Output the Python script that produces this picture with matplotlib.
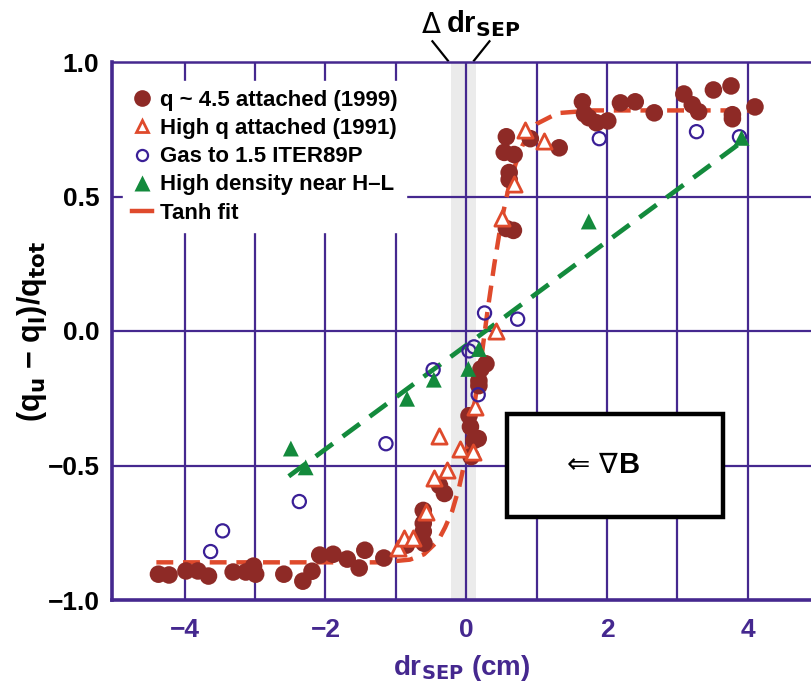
import matplotlib
matplotlib.use('Agg')
import matplotlib.pyplot as plt
from matplotlib.lines import Line2D
from matplotlib.patches import Rectangle

FONT = ['Liberation Sans Narrow', 'Liberation Sans', 'DejaVu Sans']
plt.rcParams['font.family'] = FONT
plt.rcParams['font.weight'] = 'bold'
plt.rcParams['mathtext.fontset'] = 'custom'
plt.rcParams['mathtext.rm'] = 'Liberation Sans Narrow:bold'
plt.rcParams['mathtext.bf'] = 'Liberation Sans Narrow:bold'

PURPLE = '#45288f'
DARKRED = '#8e2a26'
RED = '#df4a2c'
BLUE = '#3a1f96'
GREEN = '#138a3c'

# q ~ 4.5 attached (1999)
q45_x = [-4.37, -4.22, -3.98, -3.81, -3.66, -3.31, -3.13, -2.99, -3.02, -2.59,
         -2.32, -2.19, -2.08, -1.89, -1.69, -1.52, -1.44, -1.17, -0.85, -0.61,
         -0.61, -0.61, -0.60, -0.38, -0.31, 0.07, 0.11, 0.17, 0.06, 0.04,
         0.18, 0.18, 0.21, 0.28, 0.57, 0.54, 0.68, 0.61, 0.61, 0.57,
         0.67, 0.91, 1.32, 1.65, 1.68, 1.74, 1.85, 2.01, 2.19, 2.40,
         2.67, 3.09, 3.21, 3.30, 3.51, 3.76, 3.78, 3.78, 4.10]
q45_y = [-0.904, -0.907, -0.892, -0.892, -0.911, -0.896, -0.896, -0.904, -0.874, -0.904,
         -0.930, -0.893, -0.833, -0.830, -0.848, -0.881, -0.815, -0.844, -0.796, -0.667,
         -0.715, -0.745, -0.789, -0.574, -0.604, -0.467, -0.407, -0.400, -0.356, -0.315,
         -0.203, -0.185, -0.141, -0.122, 0.722, 0.664, 0.656, 0.589, 0.563, 0.381,
         0.374, 0.715, 0.681, 0.852, 0.807, 0.793, 0.774, 0.781, 0.848, 0.852,
         0.811, 0.881, 0.841, 0.815, 0.896, 0.911, 0.804, 0.789, 0.833]

# High q attached (1991)
hq_x = [-0.97, -0.88, -0.75, -0.57, -0.46, -0.27, -0.38, -0.09, 0.09, 0.13,
        0.42, 0.51, 0.68, 0.83, 1.10]
hq_y = [-0.807, -0.770, -0.770, -0.674, -0.548, -0.518, -0.389, -0.437, -0.448, -0.281,
        0.0, 0.419, 0.548, 0.748, 0.707]

# Gas to 1.5 ITER89P
gas_x = [-3.63, -3.46, -2.37, -1.14, -0.47, 0.04, 0.11, 0.17, 0.26, 0.73, 1.89, 3.27, 3.88]
gas_y = [-0.820, -0.743, -0.634, -0.419, -0.144, -0.074, -0.059, -0.237, 0.067, 0.044,
         0.715, 0.741, 0.722]

# High density near H-L
hd_x = [-2.49, -2.28, -0.84, -0.46, 0.03, 0.18, 1.74, 3.91]
hd_y = [-0.437, -0.507, -0.252, -0.181, -0.141, -0.067, 0.407, 0.718]
hd_fit_x = [-2.52, 3.95]
hd_fit_y = [-0.54, 0.71]

# Tanh fit
fit_x = [-4.4, -1.2, -0.8, -0.6, -0.4, -0.3, -0.2, -0.1, 0.0, 0.1, 0.2, 0.3, 0.4,
         0.5, 0.6, 0.7, 0.8, 0.9, 1.0, 1.3, 1.8, 4.1]
fit_y = [-0.86, -0.86, -0.85, -0.83, -0.78, -0.73, -0.67, -0.58, -0.46, -0.30, -0.13,
         0.07, 0.25, 0.41, 0.53, 0.62, 0.69, 0.74, 0.77, 0.81, 0.82, 0.82]

fig = plt.figure(figsize=(8.12, 6.92), dpi=100)
ax = fig.add_axes([112/812, 92/692, 700/812, 538/692])
ax.set_xlim(-5.03, 4.91)
ax.set_ylim(-1.0, 1.0)

# separatrix uncertainty band
ax.axvspan(-0.21, 0.14, color='#ebebeb', zorder=0, lw=0)

# grid
for gx in range(-4, 5):
    ax.axvline(gx, color=PURPLE, lw=1.6, zorder=1)
for gy in [-0.5, 0.0, 0.5]:
    ax.axhline(gy, color=PURPLE, lw=1.6, zorder=1)

for s in ['left', 'bottom']:
    ax.spines[s].set_color(PURPLE)
    ax.spines[s].set_linewidth(2.6)
ax.spines['top'].set_color(PURPLE)
ax.spines['top'].set_linewidth(1.8)
ax.spines['right'].set_visible(False)

# box with grad B
ax.add_patch(Rectangle((0.58, -0.691), 3.06, 0.382, facecolor='white',
                       edgecolor='black', lw=3.2, zorder=2))
ax.text(2.15, -0.497, '⇐ ∇', family='DejaVu Sans', fontweight='normal',
        fontsize=20, ha='right', va='center', zorder=3)
ax.text(2.17, -0.497, 'B', fontsize=21, ha='left', va='center', zorder=3)

# fits
ax.plot(hd_fit_x, hd_fit_y, color=GREEN, lw=3.4, dashes=(4.5, 2.6), zorder=3)
ax.plot(fit_x, fit_y, color=RED, lw=3.2, dashes=(3.8, 2.2), zorder=3)

# data
ax.scatter(q45_x, q45_y, s=160, color=DARKRED, edgecolors='none', zorder=4)
ax.scatter(hq_x, hq_y, s=120, marker='^', facecolors='white', edgecolors=RED,
           linewidths=2.0, zorder=5)
ax.scatter(gas_x, gas_y, s=90, marker='o', facecolors='none', edgecolors=BLUE,
           linewidths=1.6, zorder=5)
ax.scatter(hd_x, hd_y, s=130, marker='^', color=GREEN, edgecolors='none', zorder=5)

# ticks
ax.set_xticks([-4, -2, 0, 2, 4])
ax.set_xticklabels(['\u22124', '\u22122', '0', '2', '4'], color=PURPLE, fontsize=19)
ax.set_yticks([-1.0, -0.5, 0.0, 0.5, 1.0])
ax.set_yticklabels(['\u22121.0', '\u22120.5', '0.0', '0.5', '1.0'], color='black', fontsize=19)
ax.tick_params(axis='x', length=0, pad=13)
ax.tick_params(axis='y', length=0, pad=9)

ax.set_xlabel(r'dr$_{\mathbf{SEP}}$ (cm)', color=PURPLE, fontsize=20,
              fontweight='bold', labelpad=8)
ax.set_ylabel('(q$_{\\mathbf{u}}$ \u2212 q$_{\\mathbf{l}}$)/q$_{\\mathbf{tot}}$',
              color='black', fontsize=22, fontweight='bold', labelpad=-1)

# delta dr_SEP annotation
ax.text(-0.36, 1.085, 'Δ', family='DejaVu Sans', fontweight='normal', fontsize=20,
        ha='right', va='bottom', clip_on=False)
ax.text(-0.29, 1.085, r'dr$_{\mathbf{SEP}}$', fontsize=21, ha='left', va='bottom', clip_on=False)
ax.plot([-0.48, -0.26], [1.077, 1.005], color='black', lw=1.6, clip_on=False)
ax.plot([0.33, 0.11], [1.077, 1.005], color='black', lw=1.6, clip_on=False)

handles = [
    Line2D([], [], ls='none', marker='o', ms=12, color=DARKRED, mec='none'),
    Line2D([], [], ls='none', marker='^', ms=9, mfc='white', mec=RED, mew=2.0),
    Line2D([], [], ls='none', marker='o', ms=8, mfc='none', mec=BLUE, mew=1.6),
    Line2D([], [], ls='none', marker='^', ms=11, color=GREEN, mec='none'),
    Line2D([], [], color=RED, lw=3.2),
]
labels = ['q ~ 4.5 attached (1999)', 'High q attached (1991)', 'Gas to 1.5 ITER89P',
          'High density near H\u2013L', 'Tanh fit']
leg = ax.legend(handles, labels, loc='upper left', bbox_to_anchor=(0.0, 0.985),
                fontsize=16, frameon=True, fancybox=False, facecolor='white',
                edgecolor='white', framealpha=1.0, handlelength=0.9,
                handletextpad=0.35, labelspacing=0.32, borderpad=0.4)
leg.set_zorder(6)

fig.savefig('out.png', dpi=100)
